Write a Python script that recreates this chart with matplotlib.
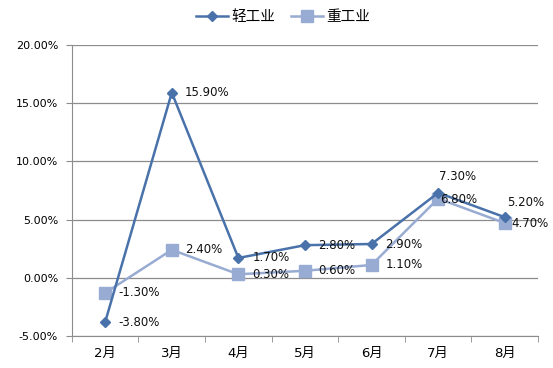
import matplotlib
matplotlib.use("Agg")
import matplotlib.pyplot as plt

plt.rcParams['font.family'] = ['DejaVu Sans', 'Noto Sans CJK SC']

months = ["2月", "3月", "4月", "5月", "6月", "7月", "8月"]
light = [-3.80, 15.90, 1.70, 2.80, 2.90, 7.30, 5.20]
heavy = [-1.30, 2.40, 0.30, 0.60, 1.10, 6.80, 4.70]
yticks = [-5, 0, 5, 10, 15, 20]

# label offsets in pixels (dx, dy)
light_off = [(13, 0), (13, 0), (14, 0), (13, 0), (14, 0), (1, 16), (2, 15)]
heavy_off = [(13, 0), (13, 0), (14, 0), (13, 0), (14, 0), (2, -1), (7, 0)]

c1 = "#4A72AA"
c2 = "#98ABD3"
grid = "#8C8C8C"

fig = plt.figure(figsize=(5.53, 3.68), dpi=100)
ax = fig.add_axes([0.130, 0.087, 0.843, 0.791])

x = list(range(len(months)))
l1, = ax.plot(x, light, color=c1, lw=1.8, marker="D", ms=5.5, label="轻工业", zorder=4)
l2, = ax.plot(x, heavy, color=c2, lw=1.8, marker="s", ms=8, label="重工业", zorder=3)

fs = 8.5
for xi, v, (dx, dy) in zip(x, light, light_off):
    ax.annotate(f"{v:.2f}%", (xi, v), xytext=(dx, dy), textcoords="offset pixels",
                ha="left", va="center", fontsize=fs, color="#111111", zorder=5)
for xi, v, (dx, dy) in zip(x, heavy, heavy_off):
    ax.annotate(f"{v:.2f}%", (xi, v), xytext=(dx, dy), textcoords="offset pixels",
                ha="left", va="center", fontsize=fs, color="#111111", zorder=5)

ax.set_xlim(-0.5, len(months) - 0.5)
ax.set_ylim(-5, 20)
ax.set_yticks(yticks)
ax.set_yticklabels([f"{t:.2f}%" for t in yticks], fontsize=8)
ax.set_xticks(x)
ax.set_xticklabels(months, fontsize=9.5)
ax.set_xticks([i - 0.5 for i in range(len(months) + 1)], minor=True)
ax.tick_params(axis="x", which="major", length=0, pad=8)
ax.tick_params(axis="x", which="minor", length=4, color=grid, direction="out")
ax.tick_params(axis="y", length=4, color=grid, direction="out", pad=6)

ax.grid(axis="y", color=grid, lw=0.9)
ax.set_axisbelow(True)
for s in ["top", "right"]:
    ax.spines[s].set_visible(False)
ax.spines["left"].set_color(grid)
ax.spines["bottom"].set_color(grid)

fig.legend(handles=[l1, l2], loc="center", bbox_to_anchor=(0.512, 0.953), ncol=2,
           frameon=False, handlelength=2.2, columnspacing=1.1,
           handletextpad=0.2, prop={'family': ['Noto Sans CJK SC'], 'size': 10.5})

fig.savefig("out.png", dpi=100)
